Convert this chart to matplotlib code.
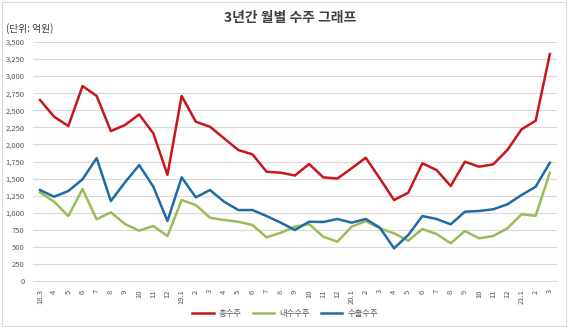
import matplotlib.pyplot as plt
from matplotlib.patches import Rectangle
from matplotlib.ticker import FuncFormatter

plt.rcParams['font.family'] = ['Noto Sans CJK KR', 'DejaVu Sans']

# 18.3 ~ 21.3 월별 라벨
months = ['18.3', '4', '5', '6', '7', '8', '9', '10', '11', '12',
          '19.1', '2', '3', '4', '5', '6', '7', '8', '9', '10', '11', '12',
          '20.1', '2', '3', '4', '5', '6', '7', '8', '9', '10', '11', '12',
          '21.1', '2', '3']

total = [2650, 2405, 2270, 2855, 2710, 2196, 2284, 2440, 2162, 1555,
         2710, 2332, 2259, 2089, 1918, 1855, 1600, 1586, 1545, 1713, 1518, 1500,
         1650, 1805, 1500, 1186, 1293, 1723, 1625, 1391, 1747, 1674, 1708, 1918,
         2221, 2347, 3323]
domestic = [1298, 1161, 951, 1347, 903, 1006, 834, 737, 805, 659,
            1186, 1113, 927, 893, 868, 820, 640, 707, 795, 834, 649, 576,
            795, 878, 770, 698, 590, 761, 688, 552, 732, 625, 659, 771,
            976, 956, 1586]
export = [1332, 1234, 1318, 1489, 1800, 1171, 1445, 1698, 1381, 878,
          1518, 1225, 1332, 1161, 1039, 1039, 951, 854, 747, 868, 864, 908,
          854, 908, 780, 478, 673, 951, 908, 830, 1015, 1025, 1050, 1123,
          1259, 1381, 1732]

fig = plt.figure(figsize=(5.68, 3.3), dpi=100)
ax = fig.add_axes([0.058, 0.1485, 0.9225, 0.7242])

x = range(len(months))
ax.plot(x, total, color='#C8161D', lw=1.8, label='총수주')
ax.plot(x, domestic, color='#9BBB59', lw=1.8, label='내수수주')
ax.plot(x, export, color='#1F6BA5', lw=1.8, label='수출수주')

ax.set_xlim(-0.5, len(months) - 0.5)
ax.set_ylim(0, 3500)
ax.set_yticks(range(0, 3501, 250))
ax.yaxis.set_major_formatter(FuncFormatter(lambda v, p: f'{int(v):,}'))
ax.set_xticks(list(x))
ax.set_xticklabels(months, rotation=90)
ax.tick_params(axis='both', length=0, labelsize=5.5, colors='#595959')
ax.tick_params(axis='y', pad=6)
ax.tick_params(axis='x', pad=6)

ax.grid(axis='y', color='#D9D9D9', lw=0.8)
ax.set_axisbelow(True)
for side in ['top', 'right', 'left']:
    ax.spines[side].set_visible(False)
ax.spines['bottom'].set_color('#D9D9D9')

fig.text(0.51, 0.945, '3년간 월별 수주 그래프', ha='center', va='center',
         fontsize=10, fontweight='bold', color='#404040')
fig.text(0.01, 0.915, '(단위: 억원)', ha='left', va='center',
         fontsize=7, color='#404040')

fig.legend(loc='center', bbox_to_anchor=(0.502, 0.05), ncol=3, frameon=False,
           fontsize=6, handlelength=2.6, handletextpad=0.6, columnspacing=1.3,
           labelcolor='#595959')

# 차트 영역 테두리
fig.patches.append(Rectangle((0.004, 0.012), 0.992, 0.982, transform=fig.transFigure,
                             fill=False, edgecolor='#D9D9D9', lw=0.8))

fig.savefig('out.png', dpi=100)
